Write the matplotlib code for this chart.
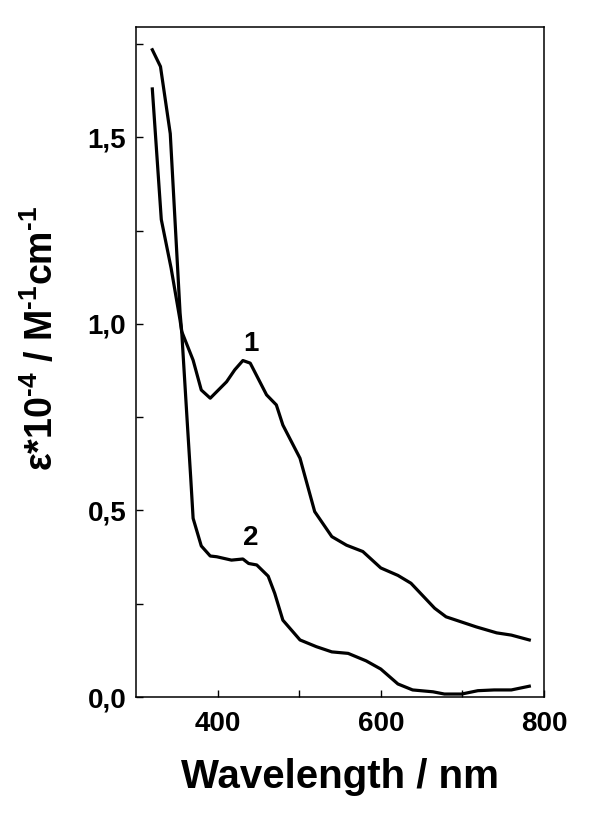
import numpy as np
import matplotlib.pyplot as plt
from matplotlib.ticker import MultipleLocator, FixedLocator

# крива 1
x1 = [320, 331, 343, 354, 356, 370, 380, 391, 411, 421, 431, 440, 460, 472, 480,
      501, 519, 540, 558, 578, 600, 621, 637, 666, 680, 717, 742, 760, 782]
y1 = [1.63, 1.28, 1.15, 1.01, 0.98, 0.903, 0.823, 0.801, 0.845, 0.877, 0.902, 0.895,
      0.81, 0.783, 0.729, 0.64, 0.497, 0.43, 0.407, 0.39, 0.346, 0.326, 0.305,
      0.238, 0.215, 0.188, 0.172, 0.166, 0.153]

# крива 2
x2 = [320, 330, 342, 346, 354, 356, 363, 367, 370, 380, 391, 399, 417, 431, 438,
      448, 462, 470, 480, 501, 521, 540, 560, 582, 600, 621, 639, 664, 678, 699,
      719, 739, 760, 782]
y2 = [1.735, 1.69, 1.51, 1.35, 1.03, 0.98, 0.73, 0.59, 0.479, 0.405, 0.378, 0.376,
      0.367, 0.37, 0.358, 0.354, 0.324, 0.278, 0.206, 0.153, 0.135, 0.121, 0.117,
      0.097, 0.075, 0.035, 0.019, 0.014, 0.008, 0.008, 0.017, 0.019, 0.019, 0.029]

curve_labels = ['1', '2']
label_pos = [(441, 0.945), (441, 0.425)]

plt.rcParams['font.family'] = ['Liberation Sans', 'DejaVu Sans']
plt.rcParams['font.weight'] = 'bold'
plt.rcParams['mathtext.fontset'] = 'custom'
plt.rcParams['mathtext.rm'] = 'Liberation Sans:bold'
plt.rcParams['mathtext.default'] = 'rm'

fig = plt.figure(figsize=(5.9, 8.16), dpi=100)
ax = fig.add_axes([0.2305, 0.1458, 0.6915, 0.8211])

ax.plot(x1, y1, color='black', lw=2.3)
ax.plot(x2, y2, color='black', lw=2.3)

for t, (px, py) in zip(curve_labels, label_pos):
    ax.text(px, py, t, fontsize=20, fontweight='bold', ha='center', va='center')

ax.set_xlim(300, 800)
ax.set_ylim(0, 1.796)

ax.xaxis.set_major_locator(FixedLocator([400, 600, 800]))
ax.xaxis.set_minor_locator(FixedLocator([500, 700]))
ax.yaxis.set_major_locator(MultipleLocator(0.5))
ax.yaxis.set_minor_locator(MultipleLocator(0.25))
ax.yaxis.set_major_formatter(lambda v, p: f"{v:.1f}".replace('.', ','))

ax.tick_params(which='both', direction='in', length=5, width=1, top=False, right=False)
ax.tick_params(axis='x', pad=10, labelsize=20)
ax.tick_params(axis='y', pad=7, labelsize=20)
for lab in ax.get_xticklabels() + ax.get_yticklabels():
    lab.set_fontweight('bold')

for s in ax.spines.values():
    s.set_linewidth(1.1)

ax.set_xlabel('Wavelength / nm', fontsize=29, fontweight='bold', labelpad=15)
ax.set_ylabel('ε*10$^{\u20104}$ / M$^{\u20101}$cm$^{\u20101}$', fontsize=27, fontweight='bold')
ax.yaxis.set_label_coords(-0.185, 0.535)

fig.savefig('out.png', dpi=100)
